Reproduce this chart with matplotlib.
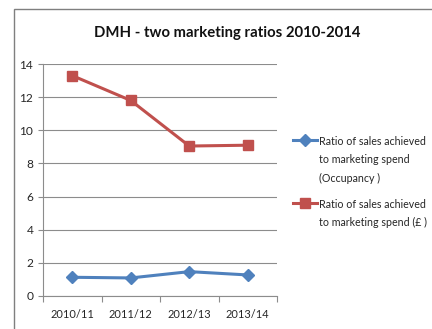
import matplotlib
matplotlib.use("Agg")
import matplotlib.pyplot as plt
from matplotlib.lines import Line2D
from matplotlib.patches import Rectangle

periods = ["2010/11", "2011/12", "2012/13", "2013/14"]
occupancy_ratio = [1.13, 1.09, 1.47, 1.27]
sales_ratio = [13.3, 11.8, 9.05, 9.1]
series_labels = [
    "Ratio of sales achieved\nto marketing spend\n(Occupancy )",
    "Ratio of sales achieved\nto marketing spend (\u00a3 )",
]
y_ticks = [0, 2, 4, 6, 8, 10, 12, 14]

BLUE = "#4F81BD"
RED = "#C0504D"
GRID = "#8C8C8C"
TEXT = "#262626"

plt.rcParams["font.family"] = ["Lato", "DejaVu Sans"]

W, H = 432, 329
fig = plt.figure(figsize=(W / 100, H / 100), dpi=100)

# outer chart border
fig.add_artist(Rectangle((14 / W, -0.1), 1.2, 1 - 9 / H + 0.1,
                         transform=fig.transFigure, fill=False,
                         edgecolor="#7F7F7F", linewidth=1.0))

ax = fig.add_axes([43 / W, 1 - 296 / H, (277 - 43) / W, (296 - 64) / H])
x = list(range(len(periods)))

ax.plot(x, occupancy_ratio, color=BLUE, linewidth=2.2, marker="D",
        markersize=6.5, markeredgecolor=BLUE, zorder=3)
ax.plot(x, sales_ratio, color=RED, linewidth=2.2, marker="s",
        markersize=7.5, markeredgecolor=RED, zorder=3)

ax.set_xlim(-0.5, len(periods) - 0.5)
ax.set_ylim(0, 14)
ax.set_yticks(y_ticks)
ax.set_yticklabels([str(v) for v in y_ticks])
ax.set_xticks(x)
ax.set_xticklabels(periods)
ax.set_xticks([i - 0.5 for i in range(len(periods) + 1)], minor=True)
ax.tick_params(axis="x", which="major", length=0, pad=9, labelsize=7.9,
               colors=TEXT)
ax.tick_params(axis="x", which="minor", length=4, width=0.8, color=GRID,
               direction="out")
ax.tick_params(axis="y", length=3.5, width=0.8, color=GRID, pad=3.5,
               labelsize=8.6, labelcolor=TEXT)

ax.grid(axis="y", color=GRID, linewidth=0.8)
ax.set_axisbelow(True)
for side in ("top", "right"):
    ax.spines[side].set_visible(False)
for side in ("left", "bottom"):
    ax.spines[side].set_color(GRID)
    ax.spines[side].set_linewidth(0.8)

fig.text(227 / W, 1 - 33 / H, "DMH - two marketing ratios 2010-2014",
         ha="center", va="center", fontsize=10.7, fontweight="bold",
         color="#111111")

# legend drawn in figure pixels: handle row, then one baseline per text line
entries = [(140, [145, 163, 181.5], BLUE, "D", 6, series_labels[0]),
           (203, [207.5, 225.5], RED, "s", 6.5, series_labels[1])]
for y_px, baselines, col, mk, ms, label in entries:
    yf = 1 - y_px / H
    fig.add_artist(Line2D([293 / W, 317 / W], [yf, yf],
                          transform=fig.transFigure, color=col,
                          linewidth=2.2))
    fig.add_artist(Line2D([305 / W], [yf], transform=fig.transFigure,
                          color=col, marker=mk, markersize=ms,
                          linestyle="none"))
    for line, base in zip(label.split("\n"), baselines):
        fig.text(319 / W, 1 - base / H, line, ha="left", va="baseline",
                 fontsize=7.7, color=TEXT)

fig.savefig("out.png", dpi=100)
